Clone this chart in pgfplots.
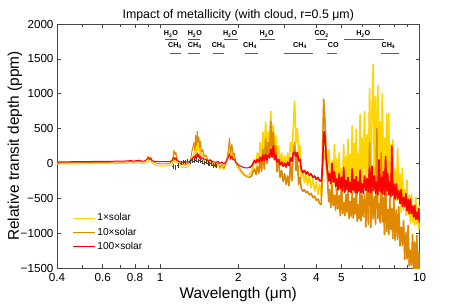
\documentclass[border=0pt]{standalone}
\usepackage{pgfplots}
\pgfplotsset{compat=1.18}
\usepackage{pgfplotstable}
\usepackage{fontspec}
\setmainfont{Liberation Sans}
\definecolor{cyel}{RGB}{255,212,0}
\definecolor{corg}{RGB}{224,136,0}
\definecolor{cred}{RGB}{255,0,0}
\definecolor{axgray}{RGB}{70,70,70}
\pgfplotstableread{
lam y1 y10 y100
0.40 -8 12 22
0.45 -6 13 24
0.50 -4 14 26
0.55 -3 15 28
0.60 -2 16 30
0.65 -2 17 31
0.70 -1 18 32
0.75 2 22 36
0.77 6 30 42
0.79 0 20 33
0.81 4 28 40
0.83 8 35 46
0.85 -2 20 32
0.87 0 25 34
0.89 15 60 60
0.90 40 105 80
0.91 20 70 55
0.92 35 90 70
0.93 5 40 40
0.95 -20 10 30
0.98 -35 0 28
1.00 -40 -5 25
1.03 -38 -8 24
1.06 -35 -5 25
1.09 -30 0 28
1.11 -10 40 40
1.12 30 90 60
1.13 60 190 90
1.14 20 120 55
1.15 70 160 80
1.16 10 60 45
1.18 -20 20 30
1.20 -45 -10 20
1.23 -60 -20 15
1.26 -55 -15 18
1.29 -40 0 25
1.31 0 60 40
1.33 80 200 70
1.35 150 300 100
1.36 60 180 60
1.37 250 400 120
1.38 120 260 80
1.39 330 460 150
1.40 180 300 90
1.41 280 380 130
1.42 120 220 70
1.43 230 320 100
1.44 90 160 60
1.46 140 200 80
1.48 40 100 50
1.50 70 120 60
1.53 10 40 35
1.56 30 60 45
1.60 -30 0 25
1.64 -60 -30 15
1.67 -20 20 30
1.70 -80 -60 0
1.73 -40 -10 20
1.76 -90 -70 -10
1.79 -30 0 20
1.81 40 80 50
1.83 100 180 80
1.85 250 360 140
1.87 80 150 60
1.89 200 280 110
1.91 60 120 50
1.93 100 150 60
1.96 -20 20 10
2.00 -80 -40 -20
2.05 -130 -100 -40
2.10 -170 -150 -60
2.15 -180 -190 -65
2.20 -160 -200 -60
2.25 -120 -180 -40
2.28 -50 -120 0
2.31 60 -80 40
2.34 -20 -160 10
2.37 150 -40 60
2.40 30 -140 20
2.43 300 60 90
2.46 80 -110 30
2.49 450 200 120
2.52 150 -80 40
2.55 590 350 130
2.58 200 0 50
2.61 450 300 120
2.64 250 100 80
2.67 745 600 200
2.70 300 150 90
2.73 550 450 250
2.76 200 50 60
2.79 400 250 120
2.82 100 -120 20
2.86 250 50 60
2.90 0 -200 -20
2.94 150 -100 20
2.98 -40 -260 -40
3.02 100 -150 0
3.06 -60 -300 -50
3.10 150 -180 20
3.14 0 -320 -30
3.18 300 0 80
3.22 150 -250 30
3.26 500 150 150
3.30 890 300 160
3.34 300 -100 100
3.38 500 100 160
3.42 150 -300 40
3.46 250 -200 60
3.50 -200 -360 -80
3.55 -120 -400 -130
3.60 -270 -375 -100
3.65 -150 -420 -150
3.70 -310 -400 -120
3.76 -180 -450 -170
3.82 -350 -430 -150
3.88 -220 -490 -200
3.94 -400 -470 -180
4.00 -260 -530 -230
4.06 -440 -510 -200
4.12 -300 -575 -250
4.18 -470 -590 -250
4.21 -350 -200 -150
4.24 0 400 100
4.27 200 920 420
4.30 150 750 460
4.33 50 500 300
4.36 -50 200 100
4.40 -150 -100 -50
4.44 50 -400 -150
4.47 200 -550 -250
4.50 55 -370 -150
4.55 -320 -630 -290
4.60 36 -300 0
4.65 -272 -607 -267
4.70 270 -454 -122
4.75 -385 -671 -329
4.80 65 -368 -222
4.85 -330 -647 -380
4.90 153 -460 -150
4.95 -368 -750 -363
5.00 -75 -200 -200
5.05 -302 -720 -393
5.10 274 -563 -60
5.15 -410 -750 -410
5.20 97 -447 -242
5.25 -329 -698 -374
5.30 345 -370 -199
5.35 -371 -790 -403
5.40 128 -543 -274
5.45 -280 -758 -420
5.50 535 -422 -80
5.55 -420 -784 -385
5.60 287 -502 -232
5.65 -316 -725 -413
5.70 490 -250 -190
5.75 -365 -830 -425
5.80 145 -595 -266
5.85 -246 -792 -395
5.90 701 -375 -100
5.95 -420 -825 -418
6.00 373 -450 -292
6.07 -295 -764 -430
6.14 742 -442 -180
6.21 -344 -910 -387
6.28 414 -310 -216
6.35 -187 -872 -407
6.42 1080 300 -60
6.49 -400 -917 -420
6.56 790 -364 -40
6.63 1420 -796 -388
6.70 -350 -477 -178
6.77 958 -870 -425
6.84 -330 500 -268
6.91 1119 -795 -450
6.98 -177 -575 50
7.05 599 -852 -404
7.12 -430 150 -202
7.19 1000 -836 -434
7.26 -301 -488 -120
7.33 362 -1020 -450
7.40 -385 -50 100
7.47 702 -976 -397
7.54 -274 -664 -145
7.61 720 -1019 -448
7.68 -480 -493 -272
7.75 270 -946 -480
7.82 -414 -651 250
7.89 337 -1080 -455
7.96 -495 -495 -300
8.05 -80 -1100 -510
8.14 -534 -664 -290
8.23 217 -1093 -510
8.32 -507 -620 -393
8.41 -153 -1183 -573
8.50 -700 -914 -375
8.59 -72 -1178 -615
8.68 -672 -818 -486
8.77 -376 -1380 -614
8.86 -750 -994 -430
8.95 -240 -1364 -678
9.04 -737 -890 -517
9.13 -462 -1471 -720
9.22 -860 -1250 -510
9.31 -438 -1458 -717
9.40 -839 -1020 -611
9.49 -650 -1600 -769
9.58 -886 -1128 -601
9.67 -483 -1542 -800
9.76 -866 -1030 -698
9.85 -640 -1572 -802
9.94 -950 -1270 -650
10.0 -600 -1600 -850
}\spec
\newcommand{\molfont}{\fontsize{7.2}{7.2}\selectfont\bfseries}
\begin{document}
\begin{tikzpicture}
\path[use as bounding box] (-57bp,-40bp) rectangle (406bp,268bp);
\begin{axis}[
  at={(0,0)}, anchor=south west,
  scale only axis, width=362.5bp, height=244bp,
  xmode=log, xmin=0.4, xmax=10, ymin=-1500, ymax=2000,
  xtick={0.4,0.6,0.8,1,2,3,4,5,10},
  xticklabels={0.4,0.6,0.8,1,2,3,4,5,10},
  minor xtick={0.5,0.7,0.9,6,7,8,9},
  ytick={-1500,-1000,-500,0,500,1000,1500,2000},
  yticklabels={−1500,−1000,−500,0,500,1000,1500,2000},
  tick label style={font=\fontsize{11.7}{13}\selectfont, black},
  xticklabel style={yshift=-2bp},
  axis line style={axgray, line width=0.5bp},
  major tick style={axgray, line width=0.5bp},
  minor tick style={axgray, line width=0.5bp},
  major tick length=4bp, minor tick length=3bp,
  tick align=inside,
  xlabel={Wavelength (μm)},
  ylabel={Relative transit depth (ppm)},
  label style={font=\fontsize{15.5}{17}\selectfont},
  xlabel style={at={(axis description cs:0.5,-0.11)}, anchor=center},
  ylabel style={at={(axis description cs:-0.116,0.5)}, anchor=center},
  title={Impact of metallicity (with cloud, r=0.5 μm)},
  every axis title/.style={at={(axis description cs:0.5,1.036)}, anchor=center, font=\fontsize{12.4}{14}\selectfont},
  legend cell align=left,
  legend image code/.code={\draw[#1, line width=0.9bp] (0bp,0bp) -- (21.6bp,0bp);},
  legend style={draw=none, fill=none, at={(axis description cs:0.035,0.24)}, anchor=north west,
    font=\fontsize{10.2}{12}\selectfont, row sep=1.5bp},
  every axis plot/.append style={line width=1.0bp, line join=round},
]
\addplot[cyel] table[x=lam, y=y1] {\spec};
\addlegendentry{1×solar}
\addplot[cyel, line width=1.5bp, forget plot, skip coords between index={0}{72}] table[x=lam, y=y1] {\spec};
\addplot[corg] table[x=lam, y=y10] {\spec};
\addlegendentry{10×solar}
\addplot[corg, line width=1.5bp, forget plot, skip coords between index={0}{72}] table[x=lam, y=y10] {\spec};
\addplot[cred] table[x=lam, y=y100] {\spec};
\addlegendentry{100×solar}
\addplot[cred, line width=1.5bp, forget plot, skip coords between index={0}{72}] table[x=lam, y=y100] {\spec};
\addplot[black!75, only marks, mark=-, mark size=0.9bp, line width=0.4bp, forget plot,
  error bars/.cd, y dir=both, y explicit, error mark=none,
  error bar style={line width=0.35bp, black!75}]
 coordinates {
 (1.12,-40) +- (0,35) (1.145,-60) +- (0,40) (1.17,-30) +- (0,35) (1.20,10) +- (0,30)
 (1.225,20) +- (0,30) (1.25,25) +- (0,30) (1.275,30) +- (0,30) (1.30,20) +- (0,30)
 (1.325,40) +- (0,30) (1.35,35) +- (0,30) (1.375,50) +- (0,30) (1.40,30) +- (0,30)
 (1.425,40) +- (0,30) (1.45,25) +- (0,30) (1.475,10) +- (0,30) (1.50,20) +- (0,30)
 (1.525,0) +- (0,30) (1.55,-10) +- (0,30) (1.575,0) +- (0,30) (1.60,-30) +- (0,30)
 (1.625,-20) +- (0,30) (1.65,-40) +- (0,30)};
% molecule band bars
\addplot[black!65, line width=0.6bp, forget plot] coordinates {(1.044,1784) (1.164,1784)};
\addplot[black!65, line width=0.6bp, forget plot] coordinates {(1.28,1784) (1.43,1784)};
\addplot[black!65, line width=0.6bp, forget plot] coordinates {(1.77,1784) (2.00,1784)};
\addplot[black!65, line width=0.6bp, forget plot] coordinates {(2.42,1784) (2.76,1784)};
\addplot[black!65, line width=0.6bp, forget plot] coordinates {(4.00,1784) (4.40,1784)};
\addplot[black!65, line width=0.6bp, forget plot] coordinates {(5.10,1784) (7.30,1784)};
\addplot[black!65, line width=0.6bp, forget plot] coordinates {(1.09,1586) (1.20,1586)};
\addplot[black!65, line width=0.6bp, forget plot] coordinates {(1.28,1586) (1.43,1586)};
\addplot[black!65, line width=0.6bp, forget plot] coordinates {(1.60,1586) (1.77,1586)};
\addplot[black!65, line width=0.6bp, forget plot] coordinates {(2.12,1586) (2.38,1586)};
\addplot[black!65, line width=0.6bp, forget plot] coordinates {(3.00,1586) (3.90,1586)};
\addplot[black!65, line width=0.6bp, forget plot] coordinates {(4.40,1586) (4.80,1586)};
\addplot[black!65, line width=0.6bp, forget plot] coordinates {(7.10,1586) (8.30,1586)};
\node[font=\molfont] at (axis cs:1.10,1856) {H\textsubscript{2}O};
\node[font=\molfont] at (axis cs:1.36,1856) {H\textsubscript{2}O};
\node[font=\molfont] at (axis cs:1.86,1856) {H\textsubscript{2}O};
\node[font=\molfont] at (axis cs:2.575,1856) {H\textsubscript{2}O};
\node[font=\molfont] at (axis cs:4.19,1856) {CO\textsubscript{2}};
\node[font=\molfont] at (axis cs:6.07,1856) {H\textsubscript{2}O};
\node[font=\molfont] at (axis cs:1.14,1698) {CH\textsubscript{4}};
\node[font=\molfont] at (axis cs:1.36,1698) {CH\textsubscript{4}};
\node[font=\molfont] at (axis cs:1.68,1698) {CH\textsubscript{4}};
\node[font=\molfont] at (axis cs:2.22,1698) {CH\textsubscript{4}};
\node[font=\molfont] at (axis cs:3.46,1698) {CH\textsubscript{4}};
\node[font=\molfont] at (axis cs:4.65,1698) {CO};
\node[font=\molfont] at (axis cs:7.59,1698) {CH\textsubscript{4}};
\end{axis}
\end{tikzpicture}
\end{document}
